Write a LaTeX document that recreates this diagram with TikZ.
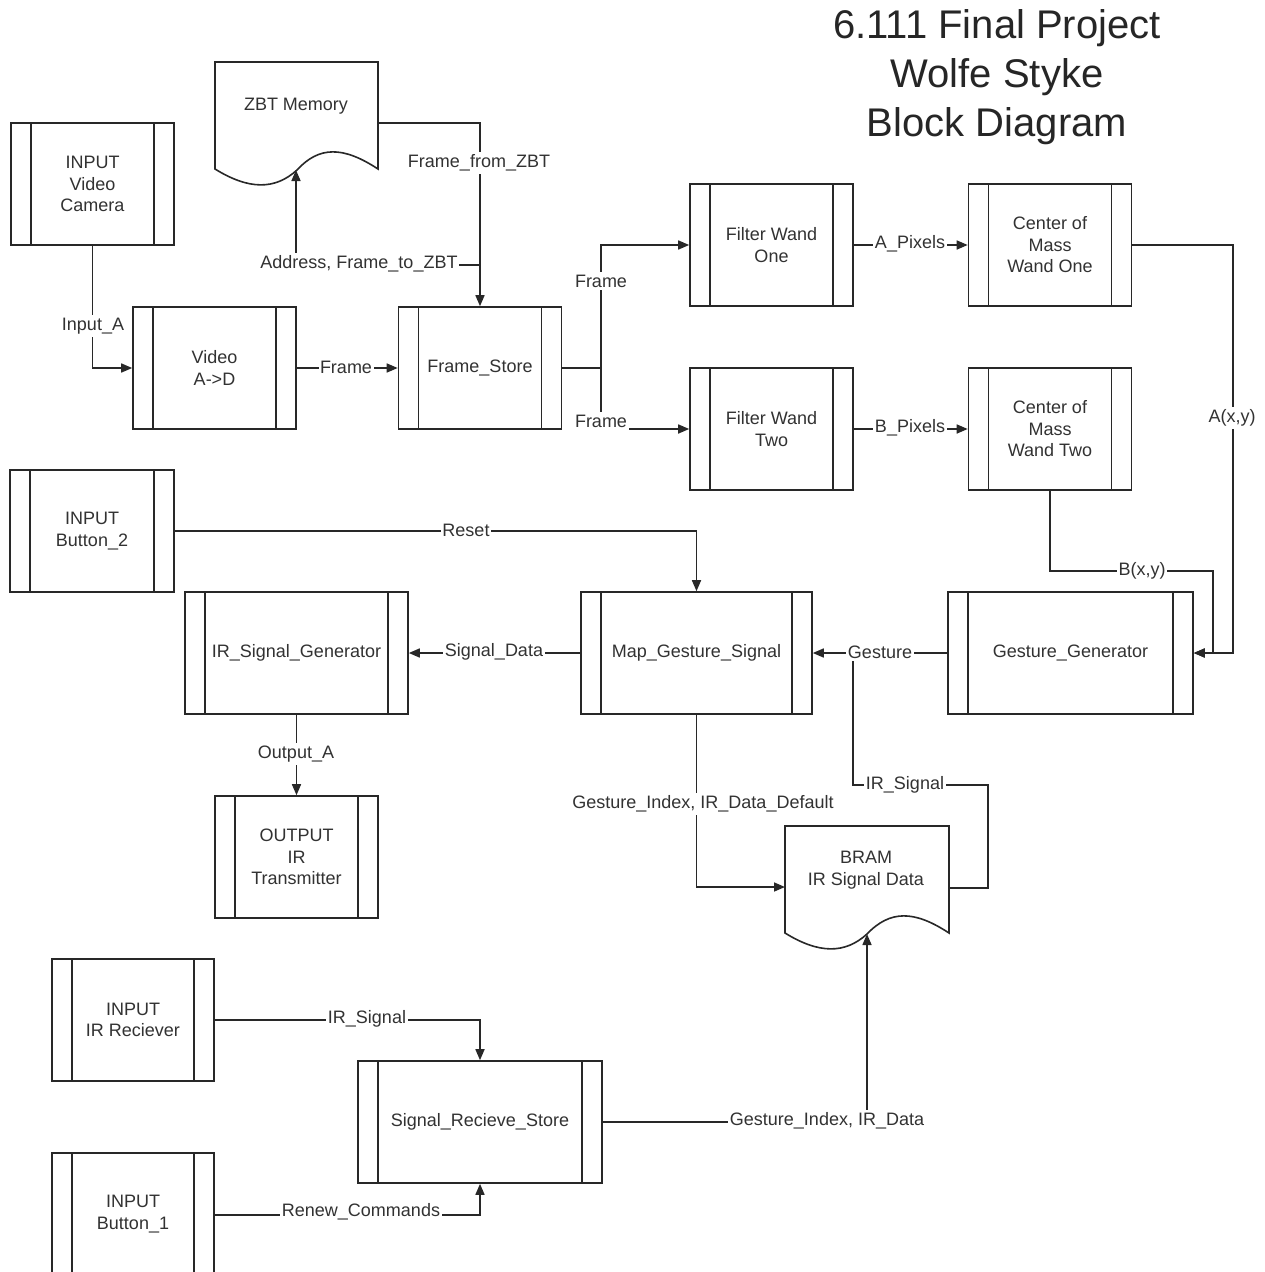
\documentclass[tikz,border=0pt]{standalone}
\usepackage{fontspec}
\setmainfont{Liberation Sans}
\usetikzlibrary{arrows.meta}
\definecolor{lc}{RGB}{40,40,40}
\definecolor{tc}{RGB}{50,50,50}
\tikzset{
  ln/.style={draw=lc, line width=1.6pt},
  arr/.style={ln, -{Triangle[length=11pt,width=9pt]}},
  proc/.style={draw=lc, line width=1.6pt, rectangle, minimum width=#1,
    minimum height=122pt, text=tc, align=center, inner sep=0pt,
    path picture={\draw[lc, line width=1.6pt]
      ([xshift=20pt]path picture bounding box.north west) -- ([xshift=20pt]path picture bounding box.south west)
      ([xshift=-20pt]path picture bounding box.north east) -- ([xshift=-20pt]path picture bounding box.south east);}},
  proc/.default=163pt,
  lbl/.style={fill=white, text=tc, inner xsep=1.5pt, inner ysep=3pt},
  doctext/.style={text=tc, align=center, inner sep=0pt},
}
\begin{document}
\begin{tikzpicture}[x=1pt, y=-1pt, every node/.style={font=\fontsize{18}{21.5}\selectfont}]
\useasboundingbox[fill=white] (0,0) rectangle (1265,1272);

% title
\node[font=\fontsize{40}{49}\selectfont, align=center, text=black!85] (title) at (997,77) {6.111 Final Project\\Wolfe Styke\\Block Diagram};

% document shapes
\begin{scope}[shift={(215,62)}]
\draw[ln] (0,0) -- (163,0) -- (163,107) .. controls (128,84) and (104,84) .. (82,108) .. controls (60,128) and (34,128) .. (0,107) -- cycle;
\end{scope}
\node[doctext] (zbt) at (296,106) {ZBT Memory};
\coordinate (zbtR) at (378,123);
\coordinate (zbtW) at (296,170);

\begin{scope}[shift={(785,826)}]
\draw[ln] (0,0) -- (164,0) -- (164,107) .. controls (129,84) and (105,84) .. (82,108) .. controls (60,128) and (34,128) .. (0,107) -- cycle;
\end{scope}
\node[doctext] (bram) at (866,870) {BRAM\\IR Signal Data};
\coordinate (bramL) at (785,887);
\coordinate (bramR) at (949,888);
\coordinate (bramW) at (867,934);

% process boxes
\node[proc] (cam) at (92.5,184) {INPUT\\Video\\Camera};
\node[proc] (vad) at (214.5,368) {Video\\A->D};
\node[proc] (fst) at (480,368) {Frame\_Store};
\node[proc] (fw1) at (771.5,245) {Filter Wand\\One};
\node[proc] (fw2) at (771.5,429) {Filter Wand\\Two};
\node[proc] (cm1) at (1050,245) {Center of\\Mass\\Wand One};
\node[proc] (cm2) at (1050,429) {Center of\\Mass\\Wand Two};
\node[proc=164pt] (btn2) at (92,531) {INPUT\\Button\_2};
\node[proc=223pt] (irsg) at (296.5,653) {IR\_Signal\_Generator};
\node[proc=231pt] (mgs) at (696.5,653) {Map\_Gesture\_Signal};
\node[proc=245pt] (gg) at (1070.5,653) {Gesture\_Generator};
\node[proc] (out) at (296.5,857) {OUTPUT\\IR\\Transmitter};
\node[proc=162pt] (irr) at (133,1020) {INPUT\\IR Reciever};
\node[proc=244pt] (srs) at (480,1122) {Signal\_Recieve\_Store};
\node[proc=162pt] (btn1) at (133,1214) {INPUT\\Button\_1};

% helper coordinates
\coordinate (addrJ) at (480,265);
\coordinate (addrC) at (296,265);
\coordinate (fj) at (601,368);
\coordinate (ax) at (1233,653);
\coordinate (bx1) at (1050,571);
\coordinate (bx2) at (1213,571);
\coordinate (bx3) at (1213,653);
\coordinate (gj) at (853,653);
\coordinate (ir1) at (988,888);
\coordinate (ir2) at (988,785);
\coordinate (ir3) at (853,785);
\coordinate (gic) at (867,1122);

% connectors
\draw[arr] (cam.south) |- (vad.west);
\draw[arr] (vad.east) -- (fst.west);
\draw[arr] (zbtR) -| (fst.north);
\draw[arr] (addrJ) -- (addrC) -- (zbtW);
\draw[ln] (fst.east) -- (fj);
\draw[arr] (fj) |- (fw1.west);
\draw[arr] (fj) |- (fw2.west);
\draw[arr] (fw1.east) -- (cm1.west);
\draw[arr] (fw2.east) -- (cm2.west);
\draw[arr] (cm1.east) -| (ax) -- (gg.east);
\draw[arr] (cm2.south) -- (bx1) -- (bx2) -- (bx3) -- (gg.east);
\draw[ln] (bramR) -- (ir1) -- (ir2) -- (ir3) -- (gj);
\draw[arr] (gg.west) -- (mgs.east);
\draw[arr] (btn2.east) -| (mgs.north);
\draw[arr] (mgs.west) -- (irsg.east);
\draw[arr] (irsg.south) -- (out.north);
\draw[arr] (mgs.south) |- (bramL);
\draw[arr] (irr.east) -| (srs.north);
\draw[arr] ([yshift=-1pt]btn1.east) -| (srs.south);
\draw[arr] (srs.east) -- (gic) -- (bramW);

% connector labels
\node[lbl] (lInA) at (93,326) {Input\_A};
\node[lbl] (lFr1) at (346,367) {Frame};
\node[lbl] (lFZ) at (479,163) {Frame\_from\_ZBT};
\node[lbl] (lAddr) at (359,264) {Address, Frame\_to\_ZBT};
\node[lbl] (lFr2) at (601,281) {Frame};
\node[lbl] (lFr3) at (601,421) {Frame};
\node[lbl] (lAP) at (910,244) {A\_Pixels};
\node[lbl] (lBP) at (910,428) {B\_Pixels};
\node[lbl] (lAxy) at (1232,418) {A(x,y)};
\node[lbl] (lBxy) at (1142,571) {B(x,y)};
\node[lbl] (lGes) at (880,652) {Gesture};
\node[lbl] (lIRS) at (905,785) {IR\_Signal};
\node[lbl] (lRes) at (466,530) {Reset};
\node[lbl] (lSD) at (494,652) {Signal\_Data};
\node[lbl] (lOA) at (296,754) {Output\_A};
\node[lbl] (lGID) at (703,804) {Gesture\_Index, IR\_Data\_Default};
\node[lbl] (lIRS2) at (367,1019) {IR\_Signal};
\node[lbl] (lRen) at (361,1212) {Renew\_Commands};
\node[lbl] (lGI) at (827,1121) {Gesture\_Index, IR\_Data};
\end{tikzpicture}
\end{document}
